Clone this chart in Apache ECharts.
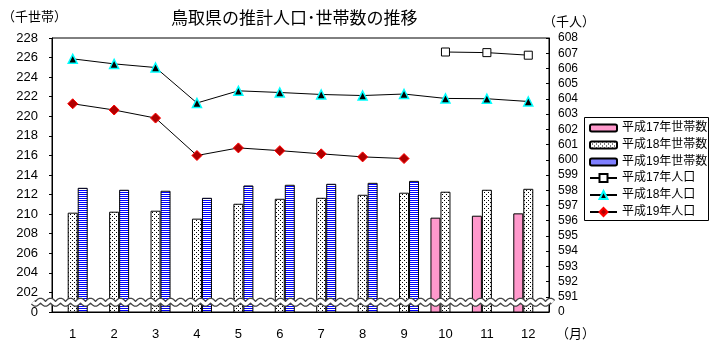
<!DOCTYPE html>
<html><head><meta charset="utf-8">
<script src="https://cdn.jsdelivr.net/npm/echarts@6/dist/echarts.min.js"></script>
<style>html,body{margin:0;padding:0;background:#fff}#c{width:710px;height:344px}</style>
</head><body><div id="c"></div>
<script>
const months = ['1','2','3','4','5','6','7','8','9','10','11','12'];
const households17 = [null,null,null,null,null,null,null,null,null,209.64,209.84,210.08];
const households18 = [210.15,210.25,210.35,209.54,211.06,211.57,211.67,211.98,212.19,212.29,212.49,212.59];
const households19 = [212.69,212.49,212.39,211.67,212.93,213.0,213.1,213.2,213.4,null,null,null];
const population17 = [null,null,null,null,null,null,null,null,null,607.08,607.04,606.87];
const population18 = [606.63,606.30,606.06,603.73,604.53,604.42,604.29,604.22,604.32,604.03,604.01,603.83];
const population19 = [603.68,603.27,602.74,600.28,600.78,600.60,600.39,600.19,600.08,null,null,null];
const leftAxis = {min:200, max:228, step:2, zeroLabel:'0'};
const rightAxis = {min:590, max:608, step:1, zeroLabel:'0'};
const names = ['平成17年世帯数','平成18年世帯数','平成19年世帯数','平成17年人口','平成18年人口','平成19年人口'];
const titleText = '鳥取県の推計人口･世帯数の推移';

const FONT = '"Liberation Sans", "Noto Sans CJK JP", sans-serif';
function makePattern(w,h,draw){const c=document.createElement('canvas');c.width=w;c.height=h;const g=c.getContext('2d');g.fillStyle='#fff';g.fillRect(0,0,w,h);draw(g);return c;}
const dots = makePattern(4,4,g=>{g.fillStyle='#000';g.fillRect(0,0,1,1);g.fillRect(2,2,1,1);});
const stripes = makePattern(2,2,g=>{g.fillStyle='#0000ff';g.fillRect(0,0,2,1);});

const chart = echarts.init(document.getElementById('c'), null, {renderer:'canvas'});
const legText = {fontFamily: FONT, fontSize: 12, color:'#000', lineHeight: 14};
chart.setOption({
  animation:false,
  backgroundColor:'#fff',
  title:{text:titleText, left:166, top:6, textStyle:{fontFamily:FONT, fontSize:17, fontWeight:'normal', color:'#000'}},
  grid:{left:52, right:161, top:38, bottom:32, show:true, borderColor:'#000', borderWidth:1, backgroundColor:'transparent'},
  legend:[
    {data:names.slice(0,3), orient:'vertical', left:589, top:121, padding:0, itemGap:3, itemWidth:27, itemHeight:7, itemTextGap:5, textStyle:legText, selectedMode:false},
    {data:names.slice(3), orient:'vertical', left:589, top:171, padding:0, itemGap:3, itemWidth:27, itemHeight:10, itemTextGap:5, textStyle:legText, selectedMode:false}
  ],
  xAxis:{type:'category', data:months, boundaryGap:true,
    axisLine:{lineStyle:{color:'#000', width:1}},
    axisTick:{inside:true, length:4, lineStyle:{color:'#000'}, alignWithLabel:false},
    axisLabel:{color:'#000', fontFamily:FONT, fontSize:13, margin:16}},
  yAxis:[
    {type:'value', min:leftAxis.min, max:leftAxis.max, interval:leftAxis.step, position:'left',
      axisLine:{show:true, lineStyle:{color:'#000'}}, axisTick:{show:true, length:3, lineStyle:{color:'#000'}},
      splitLine:{show:false},
      axisLabel:{color:'#000', fontFamily:FONT, fontSize:13, margin:14, formatter:v=> v===leftAxis.min? leftAxis.zeroLabel : String(v)}},
    {type:'value', min:rightAxis.min, max:rightAxis.max, interval:rightAxis.step, position:'right',
      axisLine:{show:true, lineStyle:{color:'#000'}}, axisTick:{show:true, inside:true, length:3, lineStyle:{color:'#000'}},
      splitLine:{show:false},
      axisLabel:{color:'#000', fontFamily:FONT, fontSize:12, margin:9, formatter:v=> v===rightAxis.min? rightAxis.zeroLabel : String(v)}}
  ],
  series:[
    {name:names[0], type:'bar', yAxisIndex:0, data:households17, barWidth:10, barGap:'0%',
      itemStyle:{color:'#ff99cc', borderColor:'#000', borderWidth:1}},
    {name:names[1], type:'bar', yAxisIndex:0, data:households18, barWidth:10, barGap:'0%',
      itemStyle:{color:{image:dots, repeat:'repeat'}, borderColor:'#000', borderWidth:1}},
    {name:names[2], type:'bar', yAxisIndex:0, data:households19, barWidth:10, barGap:'0%',
      itemStyle:{color:{image:stripes, repeat:'repeat'}, borderColor:'#000', borderWidth:1}},
    {name:names[3], type:'line', yAxisIndex:1, data:population17, symbol:'rect', symbolSize:8, z:5,
      lineStyle:{color:'#000', width:1}, itemStyle:{color:'#fff', borderColor:'#000', borderWidth:1}},
    {name:names[4], type:'line', yAxisIndex:1, data:population18, symbol:'triangle', symbolSize:9, z:5,
      lineStyle:{color:'#000', width:1}, itemStyle:{color:'#000', borderColor:'#00ffff', borderWidth:1.5}},
    {name:names[5], type:'line', yAxisIndex:1, data:population19, symbol:'diamond', symbolSize:10, z:5,
      lineStyle:{color:'#000', width:1}, itemStyle:{color:'#b00000', borderColor:'#ff0000', borderWidth:1}}
  ]
});

// break mark across the bottom of the axes
const yb = chart.convertToPixel({yAxisIndex:0}, leftAxis.min + leftAxis.step/2);
const wave = [];
for (let x = 33; x <= 553; x += 1) wave.push([x, yb + 1.6*Math.sin(2*Math.PI*(x-33)/10)]);
chart.setOption({
  graphic:[
    {type:'polyline', z:100, shape:{points:wave}, style:{stroke:'#444', lineWidth:6, fill:null}},
    {type:'polyline', z:101, shape:{points:wave}, style:{stroke:'#fff', lineWidth:3.5, fill:null}},
    {type:'text', left:2, top:10, style:{text:'（千世帯）', font:'13px "Noto Sans CJK JP"', fill:'#000'}},
    {type:'text', left:543, top:15, style:{text:'（千人）', font:'13px "Noto Sans CJK JP"', fill:'#000'}},
    {type:'text', left:556, top:327, style:{text:'（月）', font:'13px "Noto Sans CJK JP"', fill:'#000'}},
    {type:'rect', z:-1, shape:{x:584.5, y:117.5, width:124, height:103}, style:{fill:'#fff', stroke:'#000', lineWidth:1}}
  ]
});
</script></body></html>
